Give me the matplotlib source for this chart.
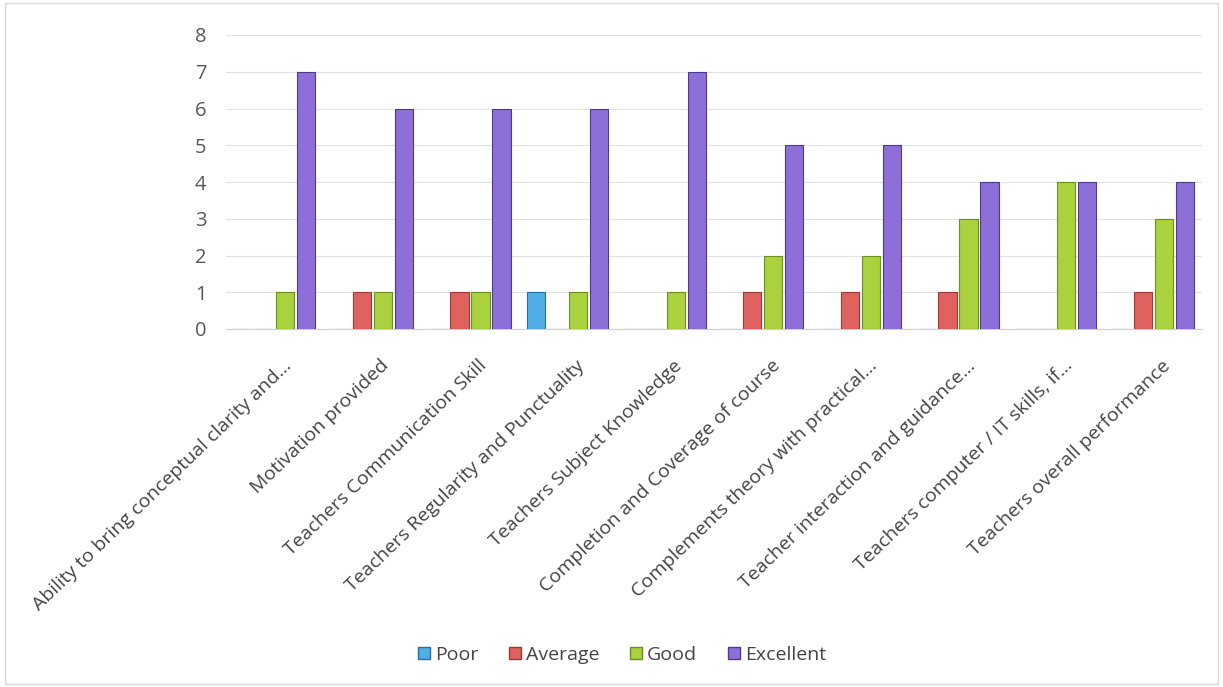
import matplotlib
matplotlib.use("Agg")
import matplotlib.pyplot as plt
import numpy as np
from matplotlib.patches import Patch

categories = [
    "Ability to bring conceptual clarity and...",
    "Motivation provided",
    "Teachers Communication Skill",
    "Teachers Regularity and Punctuality",
    "Teachers Subject Knowledge",
    "Completion and Coverage of course",
    "Complements theory with practical...",
    "Teacher interaction and guidance...",
    "Teachers computer / IT skills, if...",
    "Teachers overall performance",
]
series_names = ["Poor", "Average", "Good", "Excellent"]
poor = [0, 0, 0, 1, 0, 0, 0, 0, 0, 0]
average = [0, 1, 1, 0, 0, 1, 1, 1, 0, 1]
good = [1, 1, 1, 1, 1, 2, 2, 3, 4, 3]
excellent = [7, 6, 6, 6, 7, 5, 5, 4, 4, 4]
y_ticks = [0, 1, 2, 3, 4, 5, 6, 7, 8]

colors = ["#4FAEE6", "#E0625E", "#A9D23E", "#8E6FD9"]
edges = ["#2B6E9E", "#9A3A36", "#6E8E22", "#4B3B8C"]

plt.rcParams['font.family'] = ['Open Sans', 'DejaVu Sans']

fig = plt.figure(figsize=(12.23, 6.87), dpi=100)
ax = fig.add_axes([226/1223, 1 - 329/687, 976/1223, 294/687])

x = np.arange(len(categories))
slot = 0.215
bw = 0.185
for i, vals in enumerate([poor, average, good, excellent]):
    pos = x + (i - 1.5) * slot
    ax.bar(pos, vals, width=bw, color=colors[i], edgecolor=edges[i],
           linewidth=0.8, zorder=3)

ax.set_xlim(-0.5, len(categories) - 0.5)
ax.set_ylim(0, 8)
ax.set_yticks(y_ticks)
ax.set_yticklabels([str(t) for t in y_ticks], fontsize=14.5, color="#595959")
ax.grid(axis='y', color="#E2E2E2", linewidth=0.8, zorder=0)
for s in ['top', 'right', 'left']:
    ax.spines[s].set_visible(False)
ax.spines['bottom'].set_color("#D0D0D0")
ax.tick_params(axis='y', length=0, pad=14)
ax.tick_params(axis='x', length=0, pad=4)
ax.set_xticks(x)
ax.set_xticklabels(categories, rotation=44, ha='right', rotation_mode='anchor',
                   fontsize=14, color="#444444")
for lbl in ax.get_xticklabels():
    lbl.set_transform(lbl.get_transform() + matplotlib.transforms.ScaledTranslation(0.08, -0.22, fig.dpi_scale_trans))

handles = [Patch(facecolor=colors[i], edgecolor=edges[i], label=series_names[i]) for i in range(4)]
fig.legend(handles=handles, loc='center', bbox_to_anchor=(622/1223, 1 - 655/687),
           ncol=4, frameon=False, fontsize=14, handlelength=0.6, handleheight=0.6,
           handletextpad=0.25, columnspacing=1.6, labelcolor="#444444")

border = plt.Rectangle((0.004, 0.004), 0.992, 0.992, transform=fig.transFigure,
                       fill=False, edgecolor="#D9D9D9", linewidth=1)
fig.patches.append(border)

fig.savefig("out.png", dpi=100, facecolor="white")
